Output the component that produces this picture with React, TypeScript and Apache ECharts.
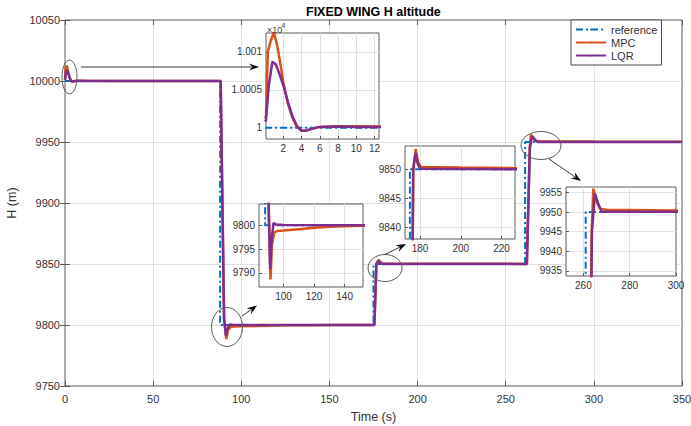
import React, { useEffect, useRef } from 'react';
import * as echarts from 'echarts';

// ---- data (time in s, altitude H in m) ----
const refTime = [0, 88, 88, 175, 175, 261, 261, 350];
const refH = [10000, 10000, 9800, 9800, 9850, 9850, 9950, 9950];

const mpcTime = [0, 0.1, 0.3, 0.6, 0.95, 1.3, 1.6, 2, 2.5, 3, 3.5, 4, 4.5, 5, 6, 8, 10, 12.5, 30, 60, 88.3, 90.3, 91.5, 92.5, 94, 96, 100, 110, 120, 130, 140, 150, 175.5, 176.7, 177.9, 179, 180.5, 200, 225, 262, 263.6, 264.3, 265.5, 267.2, 270, 300, 350];
const mpcH = [10001.2, 10001.5, 10010, 10011.4, 10012.6, 10011, 10009, 10006, 10003.2, 10001.3, 10000.1, 9999.6, 9999.6, 9999.8, 10000.1, 10000.2, 10000.2, 10000.15, 10000.1, 10000, 10000, 9805, 9788.6, 9796, 9798.5, 9798.8, 9798.9, 9799.2, 9799.5, 9799.7, 9799.8, 9799.9, 9800, 9850, 9853.5, 9851.2, 9850.4, 9850.3, 9850.2, 9850.1, 9945, 9956, 9953, 9950.8, 9950.6, 9950.4, 9950.3];

const lqrTime = [0, 0.1, 0.4, 0.8, 1.2, 1.6, 2, 2.5, 3, 3.5, 4, 4.5, 5, 6, 8, 10, 12.5, 30, 60, 88.3, 90.2, 91.3, 92.2, 93.5, 95, 100, 150, 175.5, 176.6, 177.8, 178.8, 180, 225, 262, 263.7, 265, 266.5, 268, 300, 350];
const lqrH = [10000.8, 10001, 10005.5, 10008.7, 10008.3, 10007, 10005.6, 10003.4, 10001.5, 10000.2, 9999.6, 9999.6, 9999.8, 10000.1, 10000.15, 10000.1, 10000.1, 10000.05, 10000, 10000, 9805, 9790.8, 9797, 9800.5, 9800.2, 9800.05, 9800, 9800, 9850, 9852.8, 9851, 9850.1, 9850, 9850, 9945, 9954.7, 9952, 9950.1, 9950.1, 9950];

const seriesNames = ['reference', 'MPC', 'LQR'];

// main axes
const mainXRange = [0, 350];
const mainYRange = [9750, 10050];
const mainTickStep = 50;

// zoomed views: time range and altitude range
const zoomXMin = [0.1, 84, 172.6, 252.5];
const zoomXMax = [12.5, 152, 226.6, 300];
const zoomYMin = [9998.5, 9787, 9838, 9933.7];
const zoomYMax = [10012.5, 9804.5, 9854, 9956.4];

// ---- styling / layout ----
const FONT = "'Liberation Sans', Arial, Helvetica, sans-serif";
const COLORS = ['#0072BD', '#D95319', '#7E2F8E'];
const TEXT = '#333333';
const BORDER = '#5a5a5a';
const GRIDLINE = '#e1e1e1';

const insetRects = [
  { left: 266, top: 33, width: 113, height: 106 },
  { left: 259, top: 204, width: 104, height: 83 },
  { left: 405, top: 146, width: 110, height: 93 },
  { left: 566, top: 187, width: 110, height: 89 },
];
const insetSplit = [[6, 3], [3, 4], [3, 3], [3, 5]]; // [xSplitNumber, ySplitNumber]

const pairs = (t: number[], h: number[]) => t.map((x, i) => [x, h[i]]);
const plain = (v: number) => String(v);

function lineSeries(xIdx: number, yIdx: number, z: number) {
  const datas = [pairs(refTime, refH), pairs(mpcTime, mpcH), pairs(lqrTime, lqrH)];
  return datas.map((d, i) => ({
    name: seriesNames[i],
    type: 'line',
    xAxisIndex: xIdx,
    yAxisIndex: yIdx,
    data: d,
    symbol: 'none',
    showSymbol: false,
    silent: true,
    clip: true,
    z: z + i * 0.1,
    itemStyle: { color: COLORS[i] },
    lineStyle: {
      color: COLORS[i],
      width: i === 0 ? 2 : 2.5,
      type: i === 0 ? [7, 3, 2, 3] : 'solid',
    },
  }));
}

function arrow(x1: number, y1: number, x2: number, y2: number) {
  const ang = Math.atan2(y2 - y1, x2 - x1);
  const L = 10;
  const W = 3.6;
  const c = Math.cos(ang);
  const s = Math.sin(ang);
  const bx = x2 - L * c;
  const by = y2 - L * s;
  const mx = x2 - 0.65 * L * c;
  const my = y2 - 0.65 * L * s;
  return [
    { type: 'line', z: 100, silent: true, shape: { x1, y1, x2: mx, y2: my }, style: { stroke: '#3a3a3a', lineWidth: 1 } },
    {
      type: 'polygon', z: 101, silent: true,
      shape: { points: [[x2, y2], [bx - s * W, by + c * W], [mx, my], [bx + s * W, by - c * W]] },
      style: { fill: '#000' },
    },
  ];
}

function ellipse(cx: number, cy: number, rx: number, ry: number) {
  return { type: 'ellipse', z: 100, silent: true, shape: { cx, cy, rx, ry }, style: { fill: 'none', stroke: '#5a5a5a', lineWidth: 1 } };
}

export default function App() {
  const ref = useRef<HTMLDivElement>(null);

  useEffect(() => {
    if (!ref.current) return;
    const chart = echarts.init(ref.current, null, { renderer: 'svg' });

    const grids: any[] = [
      {
        left: 65, right: 9, top: 20, bottom: 40,
        show: true, backgroundColor: '#fff', borderColor: BORDER, borderWidth: 1, z: 0,
        outerBoundsMode: 'none',
      },
    ];
    insetRects.forEach((r) => {
      grids.push({
        ...r, show: true, backgroundColor: '#fff', borderColor: BORDER, borderWidth: 1, z: 5,
        outerBoundsMode: 'none',
      });
    });

    const xAxes: any[] = [
      {
        type: 'value', gridIndex: 0, position: 'bottom', min: mainXRange[0], max: mainXRange[1], interval: mainTickStep,
        axisLine: { show: false }, axisTick: { show: true, inside: true, length: 5, lineStyle: { color: BORDER } },
        axisLabel: { color: TEXT, fontSize: 11, fontFamily: FONT, margin: 7, formatter: plain },
        splitLine: { show: true, showMinLine: false, showMaxLine: false, lineStyle: { color: GRIDLINE, width: 1 } },
        name: 'Time (s)', nameLocation: 'middle', nameGap: 24,
        nameTextStyle: { color: TEXT, fontSize: 12.5, fontFamily: FONT },
        z: 0,
      },
      {
        type: 'value', gridIndex: 0, position: 'top', min: mainXRange[0], max: mainXRange[1], interval: mainTickStep,
        axisLine: { show: false }, axisTick: { show: true, inside: true, length: 5, lineStyle: { color: BORDER } },
        axisLabel: { show: false }, splitLine: { show: false }, z: 1,
      },
    ];
    const yAxes: any[] = [
      {
        type: 'value', gridIndex: 0, position: 'left', min: mainYRange[0], max: mainYRange[1], interval: mainTickStep,
        axisLine: { show: false }, axisTick: { show: true, inside: true, length: 5, lineStyle: { color: BORDER } },
        axisLabel: { color: TEXT, fontSize: 11, fontFamily: FONT, margin: 5, formatter: plain },
        splitLine: { show: true, showMinLine: false, showMaxLine: false, lineStyle: { color: GRIDLINE, width: 1 } },
        name: 'H (m)', nameLocation: 'middle', nameGap: 38,
        nameTextStyle: { color: TEXT, fontSize: 12.5, fontFamily: FONT },
        z: 0,
      },
      {
        type: 'value', gridIndex: 0, position: 'right', min: mainYRange[0], max: mainYRange[1], interval: mainTickStep,
        axisLine: { show: false }, axisTick: { show: true, inside: true, length: 5, lineStyle: { color: BORDER } },
        axisLabel: { show: false }, splitLine: { show: false }, z: 1,
      },
    ];

    insetRects.forEach((_, k) => {
      const g = k + 1;
      xAxes.push({
        type: 'value', gridIndex: g, min: zoomXMin[k], max: zoomXMax[k], splitNumber: insetSplit[k][0],
        axisLine: { show: false },
        axisTick: { show: true, inside: true, length: 3, lineStyle: { color: BORDER } },
        axisLabel: {
          color: TEXT, fontSize: 10, fontFamily: FONT, margin: 4, formatter: plain,
          showMinLabel: false, showMaxLabel: k === 3,
        },
        splitLine: { show: true, showMinLine: false, showMaxLine: false, lineStyle: { color: GRIDLINE, width: 1 } },
        z: 6,
      });
      yAxes.push({
        type: 'value', gridIndex: g, min: zoomYMin[k], max: zoomYMax[k], splitNumber: insetSplit[k][1],
        axisLine: { show: false },
        axisTick: { show: true, inside: true, length: 3, lineStyle: { color: BORDER } },
        axisLabel: {
          color: TEXT, fontSize: 10, fontFamily: FONT, margin: 4,
          formatter: k === 0 ? (v: number) => String(parseFloat((v / 10000).toFixed(4))) : plain,
          showMinLabel: false, showMaxLabel: false,
        },
        splitLine: { show: true, showMinLine: false, showMaxLine: false, lineStyle: { color: GRIDLINE, width: 1 } },
        z: 6,
      });
    });

    const series: any[] = [...lineSeries(0, 0, 2)];
    insetRects.forEach((_, k) => {
      series.push(...lineSeries(k + 2, k + 2, 7));
    });

    const graphics: any[] = [
      ellipse(69.5, 77, 7.5, 17),
      ellipse(227, 327, 15.5, 19.5),
      ellipse(385, 268, 17, 13.5),
      ellipse(541, 145.5, 20, 14),
      ...arrow(81, 67, 259, 67),
      ...arrow(242, 316, 257, 305.5),
      ...arrow(385, 254.5, 406, 244),
      ...arrow(549, 159, 581, 181),
      {
        type: 'text', z: 100, silent: true, x: 267, y: 25,
        style: { text: '\u00d710', fill: '#444', font: `9px ${FONT}` },
      },
      {
        type: 'text', z: 100, silent: true, x: 281.5, y: 22,
        style: { text: '4', fill: '#444', font: `7px ${FONT}` },
      },
    ];

    chart.setOption({
      animation: false,
      backgroundColor: '#fff',
      textStyle: { fontFamily: FONT },
      title: {
        text: 'FIXED WING H altitude',
        left: 306, top: 5, padding: 0,
        textStyle: { fontSize: 12.5, fontWeight: 'bold', color: '#000', fontFamily: FONT },
      },
      legend: {
        data: seriesNames,
        orient: 'vertical',
        left: 571, top: 20,
        padding: [3, 4, 3, 4],
        itemGap: 0,
        itemWidth: 30,
        itemHeight: 2,
        backgroundColor: '#fff',
        borderColor: '#4a4a4a',
        borderWidth: 1,
        borderRadius: 0,
        z: 120,
        textStyle: { fontSize: 11, color: TEXT, fontFamily: FONT, lineHeight: 13 },
      },
      grid: grids,
      xAxis: xAxes,
      yAxis: yAxes,
      series,
      graphic: { elements: graphics },
    });

    return () => chart.dispose();
  }, []);

  return (
    <div
      ref={ref}
      style={{ position: 'fixed', left: 0, top: 0, width: 691, height: 426, background: '#fff' }}
    />
  );
}
